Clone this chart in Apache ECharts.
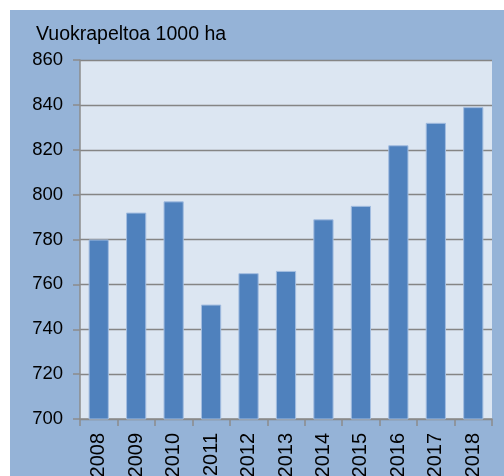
<!DOCTYPE html>
<html><head><meta charset="utf-8">
<script src="https://cdn.jsdelivr.net/npm/echarts@6/dist/echarts.min.js"></script>
<style>html,body{margin:0;padding:0;background:#fff}#c{width:504px;height:476px}</style>
</head><body><div id="c"></div>
<script>
const titleText = "Vuokrapeltoa 1000 ha";
const years = ["2008","2009","2010","2011","2012","2013","2014","2015","2016","2017","2018"];
const values = [780, 792, 797, 751, 765, 766, 789, 795, 822, 832, 839];
const yMin = 700, yMax = 860, yStep = 20;

const chart = echarts.init(document.getElementById('c'), null, {renderer:'canvas'});
chart.setOption({
  animation: false,
  backgroundColor: '#fff',
  graphic: [{type:'rect', z:-10, shape:{x:10,y:10,width:494,height:466}, style:{fill:'#95b3d7'}}],
  title: {text: titleText, left: 31, top: 20, textStyle:{fontFamily:'Liberation Sans, Arial', fontSize:19.5, fontWeight:'normal', color:'#000'}},
  grid: {left:80, right:12, top:60, bottom:57, show:true, backgroundColor:'#dce6f2', borderWidth:0, containLabel:false, outerBoundsMode:'none'},
  xAxis: {type:'category', data: years,
    axisLine:{lineStyle:{color:'#8c8c8c', width:1.5}},
    axisTick:{show:true, length:7, lineStyle:{color:'#8c8c8c', width:1.5}},
    axisLabel:{rotate:90, margin:14, color:'#000', fontFamily:'Liberation Sans, Arial', fontSize:20}},
  yAxis: {type:'value', min:yMin, max:yMax, interval:yStep,
    axisLine:{show:true, lineStyle:{color:'#8c8c8c', width:1.5}},
    axisTick:{show:true, length:7, lineStyle:{color:'#8c8c8c', width:1.5}},
    splitLine:{lineStyle:{color:'#858585', width:1.3}},
    axisLabel:{margin:17, color:'#000', fontFamily:'Liberation Sans, Arial', fontSize:18.5}},
  series: [{type:'bar', data: values, barWidth:'54%',
    itemStyle:{color:'#4f81bd', borderColor:'#a3bde0', borderWidth:1}}]
});
</script></body></html>
